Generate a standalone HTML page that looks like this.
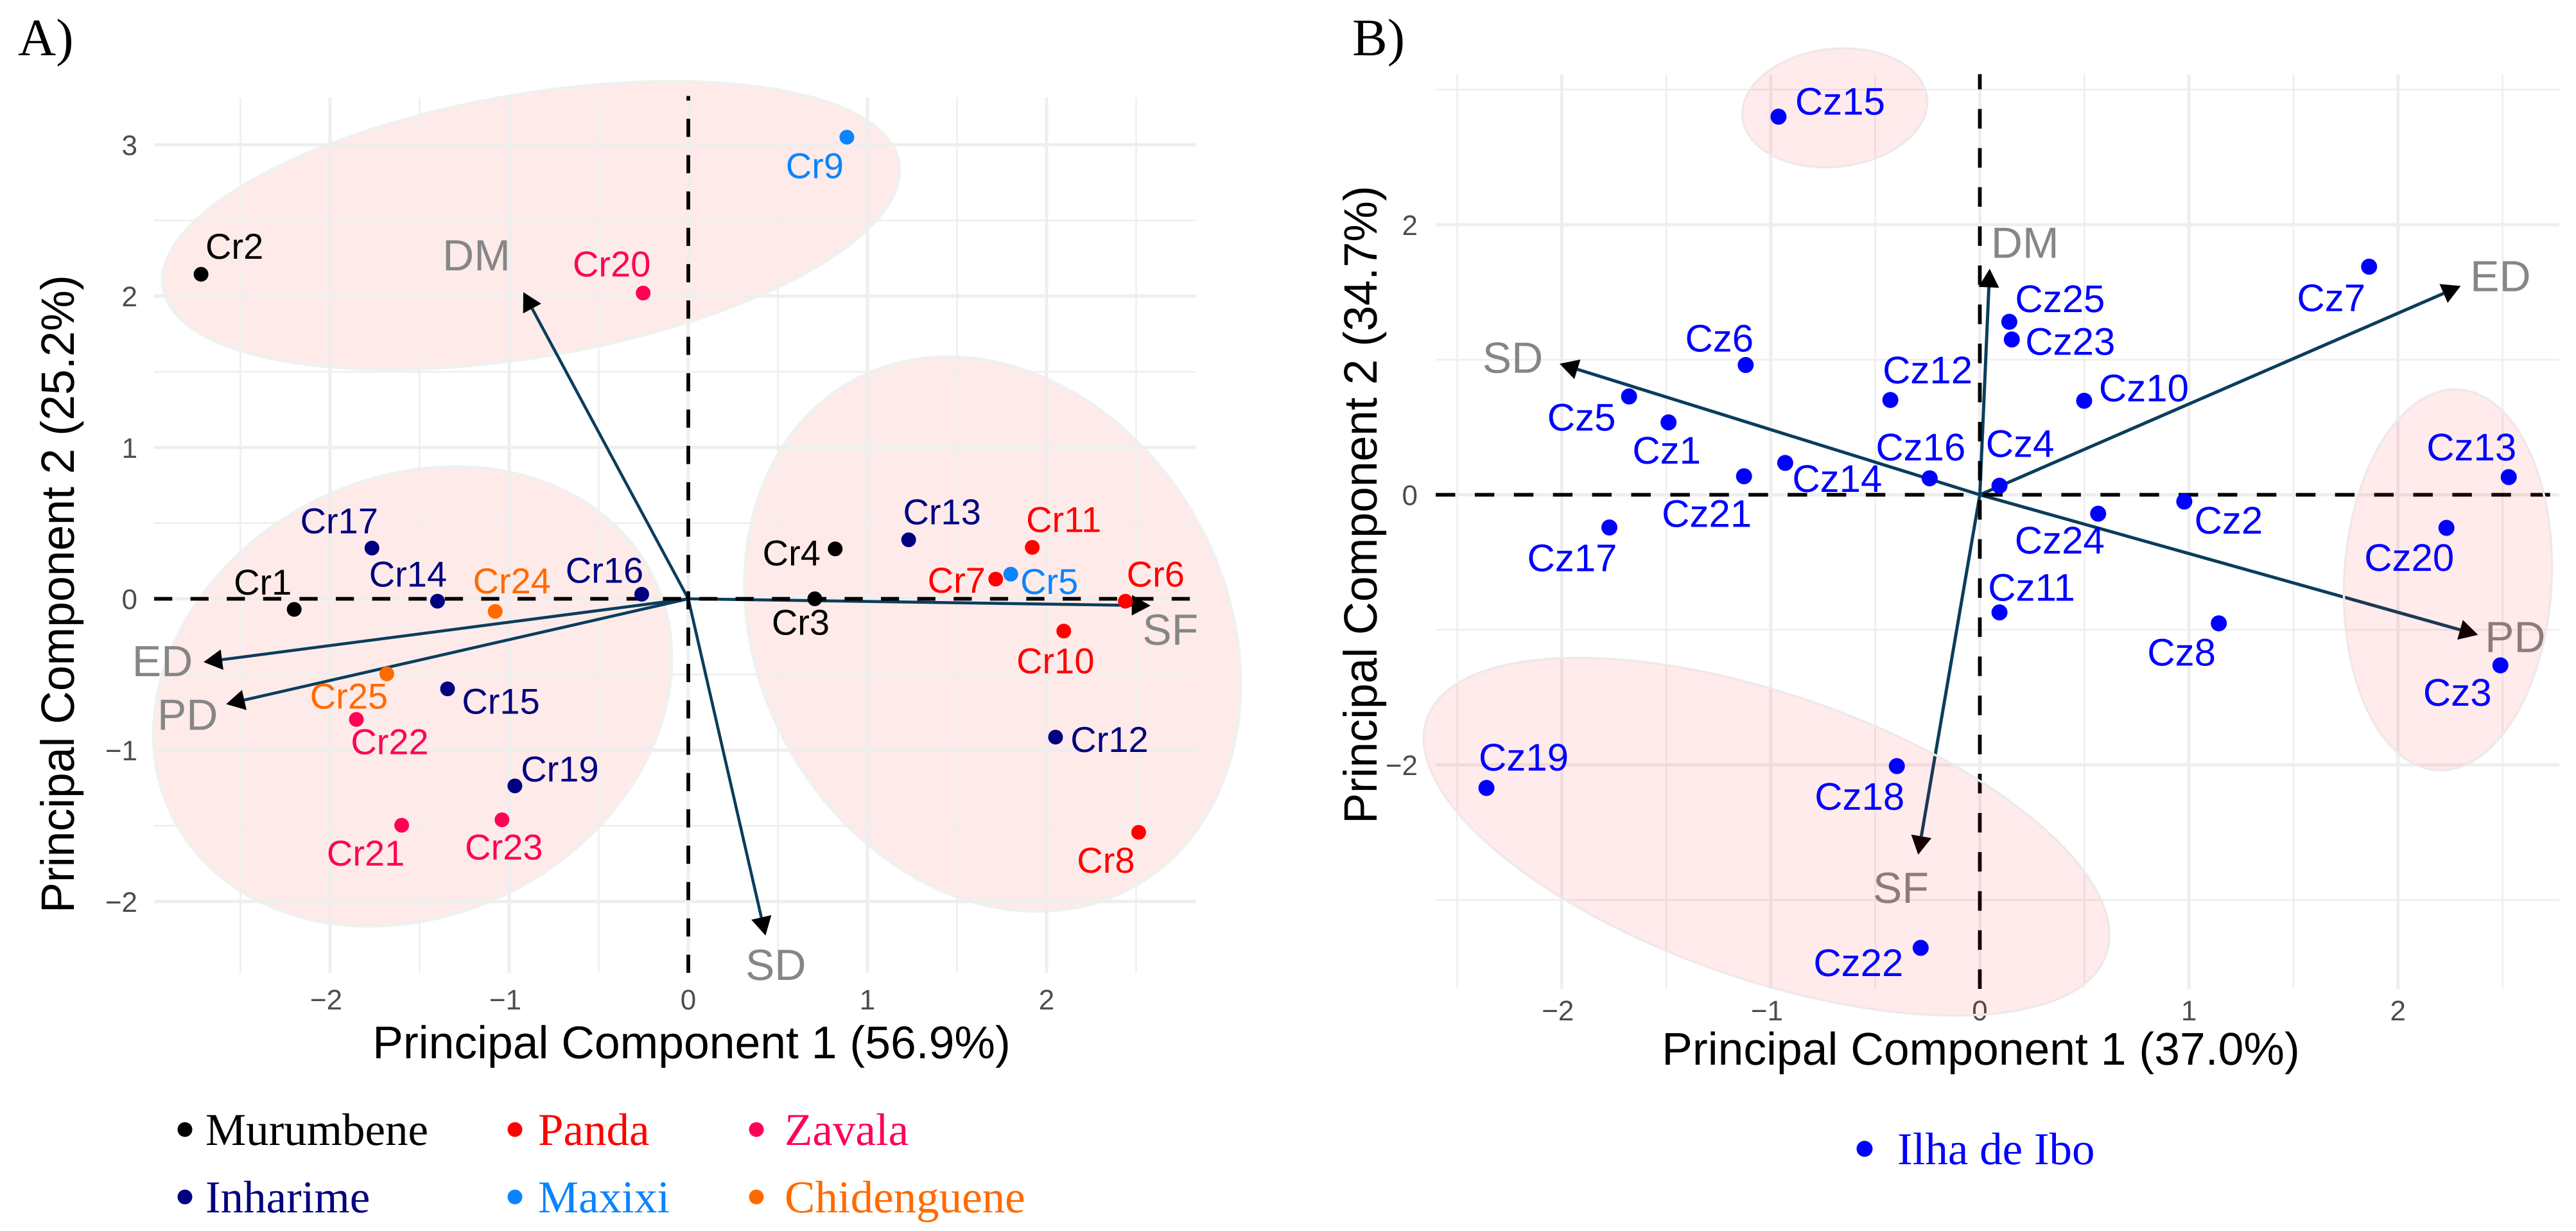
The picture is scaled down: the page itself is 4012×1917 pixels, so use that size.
<!DOCTYPE html>
<html lang="en">
<head>
<meta charset="utf-8">
<title>PCA biplots</title>
<style>
html,body{margin:0;padding:0;background:#fff;}
svg{display:block;}
text{font-family:"Liberation Sans",Arial,sans-serif;text-rendering:geometricPrecision;}
.serif{font-family:"Liberation Serif","Times New Roman",serif;}
</style>
</head>
<body>
<svg id="fig" xmlns="http://www.w3.org/2000/svg" width="4012" height="1917" viewBox="0 0 4012 1917">
<rect x="0" y="0" width="4012" height="1917" fill="#ffffff"/>
<text class="serif" x="28" y="86" font-size="82" fill="#000">A)</text>
<text class="serif" x="2106" y="86" font-size="82" fill="#000">B)</text>
<g id="panelA"></g>
<g id="panelB"></g>
<g id="legendA"></g>
<g id="legendB"></g>
</svg>
<script>
// ---------- Panel A data ----------
const crNames = ['Cr1','Cr2','Cr3','Cr4','Cr5','Cr6','Cr7','Cr8','Cr9','Cr10','Cr11','Cr12','Cr13','Cr14','Cr15','Cr16','Cr17','Cr19','Cr20','Cr21','Cr22','Cr23','Cr24','Cr25'];
const crPC1 = [-2.20,-2.72,0.706,0.82,1.80,2.44,1.716,2.514,0.885,2.096,1.92,2.05,1.23,-1.40,-1.344,-0.26,-1.766,-0.968,-0.252,-1.60,-1.853,-1.04,-1.078,-1.683];
const crPC2 = [-0.07,2.144,0,0.33,0.163,-0.016,0.13,-1.543,3.05,-0.213,0.34,-0.914,0.39,-0.016,-0.595,0.03,0.335,-1.236,2.02,-1.496,-0.797,-1.46,-0.083,-0.496];
const crSite = ['Murumbene','Murumbene','Murumbene','Murumbene','Maxixi','Panda','Panda','Panda','Maxixi','Panda','Panda','Inharime','Inharime','Inharime','Inharime','Inharime','Inharime','Inharime','Zavala','Zavala','Zavala','Zavala','Chidenguene','Chidenguene'];
const traitsA = ['DM','ED','PD','SF','SD'];
const loadAx = [-0.921,-2.706,-2.58,2.58,0.431];
const loadAy = [2.026,-0.418,-0.696,-0.045,-2.225];
const clusterAcx = [-0.878,-1.539,1.699];
const clusterAcy = [2.467,-0.645,-0.233];
const clusterAsx = [2.057,1.446,1.384];
const clusterAsy = [0.95,1.517,1.831];
const clusterAr = [0.383,0.165,-0.18];
const xTicksA = [-2,-1,0,1,2];
const yTicksA = [-2,-1,0,1,2,3];
const xMinorA = [-2.5,-1.5,-0.5,0.5,1.5,2.5];
const yMinorA = [-1.5,-0.5,0.5,1.5,2.5];
const legendSitesA = ['Murumbene','Inharime','Panda','Maxixi','Zavala','Chidenguene'];

// ---------- Panel B data ----------
const czNames = ['Cz1','Cz2','Cz3','Cz4','Cz5','Cz6','Cz7','Cz8','Cz10','Cz11','Cz12','Cz13','Cz14','Cz15','Cz16','Cz17','Cz18','Cz19','Cz20','Cz21','Cz22','Cz23','Cz24','Cz25'];
const czPC1 = [-1.489,0.978,2.49,0.094,-1.678,-1.12,1.862,1.143,0.499,0.094,-0.428,2.53,-0.931,-0.963,-0.24,-1.772,-0.397,-2.36,2.232,-1.128,-0.283,0.153,0.566,0.141];
const czPC2 = [0.536,-0.05,-1.263,0.067,0.728,0.961,1.689,-0.952,0.696,-0.871,0.702,0.131,0.236,2.80,0.122,-0.242,-2.009,-2.171,-0.245,0.137,-3.355,1.15,-0.14,1.281];
const traitsB = ['DM','ED','SD','PD','SF'];
const loadBx = [0.047,2.30,-2.01,2.383,-0.295];
const loadBy = [1.674,1.546,0.97,-1.037,-2.665];
const clusterBcx = [-0.694,2.239,-1.02];
const clusterBcy = [2.865,-0.63,-2.532];
const clusterBsx = [0.442,0.4975,1.64];
const clusterBsy = [0.44,1.41,1.324];
const clusterBr = [0.1,0.07,-0.55];
const xTicksB = [-2,-1,0,1,2];
const yTicksB = [-2,0,2];
const xMinorB = [-2.5,-1.5,-0.5,0.5,1.5,2.5];
const yMinorB = [-3,-1,1,3];

// ---------- Appearance (not data) ----------
const siteColor = {Murumbene:'#000000',Inharime:'#000080',Panda:'#ff0000',Maxixi:'#0a84ff',Zavala:'#ff0055',Chidenguene:'#ff6a00','Ilha de Ibo':'#0000ff'};
const labelNudgeA = {Cr1:[-49,-23],Cr2:[52,-24],Cr3:[-22,56],Cr4:[-68,26],Cr5:[60,31],Cr6:[47,-23],Cr7:[-61,21],Cr8:[-51,63],Cr9:[-50,64],Cr10:[-13,66],Cr11:[49,-24],Cr12:[84,23],Cr13:[52,-24],Cr14:[-46,-23],Cr15:[83,39],Cr16:[-58,-18],Cr17:[-51,-23],Cr19:[70,-7],Cr20:[-49,-26],Cr21:[-56,63],Cr22:[52,54],Cr23:[3,62],Cr24:[26,-28],Cr25:[-59,54]};
const labelNudgeB = {Cz1:[-3,64],Cz2:[69,50],Cz3:[-67,63],Cz4:[32,-45],Cz5:[-74,53],Cz6:[-41,-21],Cz7:[-59,69],Cz8:[-58,66],Cz10:[93,1],Cz11:[50,-18],Cz12:[58,-26],Cz13:[-58,-26],Cz14:[81,45],Cz15:[96,-3],Cz16:[-14,-28],Cz17:[-58,68],Cz18:[-58,68],Cz19:[58,-27],Cz20:[-58,67],Cz21:[-58,79],Cz22:[-97,44],Cz23:[91,24],Cz24:[-60,62],Cz25:[79,-15]};
const traitNudgeA = {DM:[-73,-34],ED:[-64,22],PD:[-60,40],SF:[31,61],SD:[16,69]};
const traitNudgeB = {DM:[55,-17],ED:[62,8],SD:[-73,14],PD:[58,27],SF:[-27,75]};

const NS = 'http://www.w3.org/2000/svg';
function mk(parent, tag, attrs, txt) {
  const el = document.createElementNS(NS, tag);
  for (const k in attrs) el.setAttribute(k, attrs[k]);
  if (txt !== undefined) el.textContent = txt;
  parent.appendChild(el);
  return el;
}
function tickText(v) { return v < 0 ? '\u2212' + Math.abs(v) : String(v); }

function drawGrid(g, p) {
  p.xMinor.forEach(function (v) {
    const el = mk(g, 'line', {x1:p.sx(v), x2:p.sx(v), y1:p.top, y2:p.bottom, stroke:'#eeeeee', 'stroke-width':2.6});
    
    
  });
  p.yMinor.forEach(function (v) {
    const el = mk(g, 'line', {x1:p.left, x2:p.right, y1:p.sy(v), y2:p.sy(v), stroke:'#eeeeee', 'stroke-width':2.6});
    
    
  });
  p.xTicks.forEach(function (v) {
    const el = mk(g, 'line', {x1:p.sx(v), x2:p.sx(v), y1:p.top, y2:p.bottom, stroke:'#eeeeee', 'stroke-width':5});
    
    
  });
  p.yTicks.forEach(function (v) {
    const el = mk(g, 'line', {x1:p.left, x2:p.right, y1:p.sy(v), y2:p.sy(v), stroke:'#eeeeee', 'stroke-width':5});
    
    
  });
}
function drawTicks(g, p) {
  p.xTicks.forEach(function (v) {
    const el = mk(g, 'text', {x:p.sx(v) - (v < 0 ? 6 : 0), y:p.xTickY, 'font-size':44, fill:'#4d4d4d', 'text-anchor':'middle'}, tickText(v));
    
    
  });
  p.yTicks.forEach(function (v) {
    const el = mk(g, 'text', {x:p.yTickX, y:p.sy(v) + 16, 'font-size':44, fill:'#4d4d4d', 'text-anchor':'end'}, tickText(v));
    
    
  });
}
function drawEllipses(g, p, style) {
  p.ecx.forEach(function (cx, i) {
    let d = '';
    for (let k = 0; k < 120; k++) {
      const t = k / 120 * 2 * Math.PI;
      const ex = cx + p.esx[i] * Math.cos(t);
      const ey = p.ecy[i] + p.esy[i] * (p.er[i] * Math.cos(t) + Math.sqrt(1 - p.er[i] * p.er[i]) * Math.sin(t));
      d += (k ? 'L' : 'M') + p.sx(ex).toFixed(1) + ' ' + p.sy(ey).toFixed(1);
    }
    const el = mk(g, 'path', Object.assign({d:d + 'Z'}, style));
    
    
  });
}
function drawArrows(g, p) {
  p.traits.forEach(function (name, i) {
    const x0 = p.sx(0), y0 = p.sy(0), x1 = p.sx(p.lx[i]), y1 = p.sy(p.ly[i]);
    const L = Math.hypot(x1 - x0, y1 - y0), ux = (x1 - x0) / L, uy = (y1 - y0) / L;
    const bx = x1 - ux * 29, by = y1 - uy * 29;
    const line = mk(g, 'line', {x1:x0, y1:y0, x2:bx, y2:by, stroke:'#0b3d5c', 'stroke-width':p.arrowWidth});
    
    
    const head = mk(g, 'polygon', {points:[x1, y1, bx - uy * 16, by + ux * 16, bx + uy * 16, by - ux * 16].join(' '), fill:'#000'});
    
    
    const n = p.traitNudge[name];
    const label = mk(g, 'text', {x:x1 + n[0], y:y1 + n[1], 'font-size':68, fill:'#868686', 'text-anchor':'middle'}, name);
    
    
  });
}
function drawZero(g, p) {
  const h = mk(g, 'line', {x1:p.left, x2:p.right, y1:p.sy(0), y2:p.sy(0), stroke:'#000', 'stroke-width':5.8, 'stroke-dasharray':p.dash + ' ' + p.dash});
  
  
  const v = mk(g, 'line', {x1:p.sx(0), x2:p.sx(0), y1:p.bottom, y2:p.zeroTop, stroke:'#000', 'stroke-width':5.8, 'stroke-dasharray':p.dash + ' ' + p.dash});
  
  
}
function drawPoints(g, p) {
  p.names.forEach(function (name, i) {
    const px = p.sx(p.px[i]), py = p.sy(p.py[i]), c = siteColor[p.site(i)];
    const pt = mk(g, 'circle', {cx:px, cy:py, r:p.r, fill:c});
    
    
    const n = p.nudge[name];
    const label = mk(g, 'text', {x:px + n[0], y:py + n[1], 'font-size':p.labelSize, fill:c, 'text-anchor':'middle'}, name);
    
    
  });
}

const panelA = {
  sx:function (v) { return 1072 + 279 * v; }, sy:function (v) { return 932.5 - 235.7 * v; },
  left:240, right:1863, top:152, bottom:1515, zeroTop:149.5, dash:28.3, arrowWidth:4.6,
  xTicks:xTicksA, yTicks:yTicksA, xMinor:xMinorA, yMinor:yMinorA,
  xTickY:1572, yTickX:214,
  ecx:clusterAcx, ecy:clusterAcy, esx:clusterAsx, esy:clusterAsy, er:clusterAr,
  traits:traitsA, lx:loadAx, ly:loadAy, traitNudge:traitNudgeA,
  names:crNames, px:crPC1, py:crPC2, site:function (i) { return crSite[i]; },
  nudge:labelNudgeA, r:11.5, labelSize:56
};
const panelB = {
  sx:function (v) { return 3083.5 + 325.6 * v; }, sy:function (v) { return 770.5 - 210.3 * v; },
  left:2236, right:3986, top:115.5, bottom:1540, zeroTop:115.5, dash:30.45, arrowWidth:5,
  xTicks:xTicksB, yTicks:yTicksB, xMinor:xMinorB, yMinor:yMinorB,
  xTickY:1589, yTickX:2208,
  ecx:clusterBcx, ecy:clusterBcy, esx:clusterBsx, esy:clusterBsy, er:clusterBr,
  traits:traitsB, lx:loadBx, ly:loadBy, traitNudge:traitNudgeB,
  names:czNames, px:czPC1, py:czPC2, site:function () { return 'Ilha de Ibo'; },
  nudge:labelNudgeB, r:12.5, labelSize:60
};

// Panel A: ellipses sit beneath the grid
const gA = document.getElementById('panelA');
drawEllipses(gA, panelA, {fill:'#feebe9', stroke:'#f0f0ee', 'stroke-width':5});
drawGrid(gA, panelA);
drawTicks(gA, panelA);
drawArrows(gA, panelA);
drawZero(gA, panelA);
drawPoints(gA, panelA);
const axA = mk(gA, 'text', {x:1077, y:1648, 'font-size':71.5, fill:'#000', 'text-anchor':'middle'}, 'Principal Component 1 (56.9%)');


const ayA = mk(gA, 'text', {transform:'translate(115,925) rotate(-90) scale(1,1.02)', 'font-size':71.5, fill:'#000', 'text-anchor':'middle'}, 'Principal Component 2 (25.2%)');



// Panel B: ellipses tint the arrows and trait labels beneath them
const gB = document.getElementById('panelB');
drawGrid(gB, panelB);
drawTicks(gB, panelB);
drawArrows(gB, panelB);
drawZero(gB, panelB);
drawEllipses(gB, panelB, {fill:'rgba(255,0,0,0.08)', stroke:'#f0e8e8', 'stroke-width':3.5});
drawPoints(gB, panelB);
const axB = mk(gB, 'text', {x:3085, y:1658, 'font-size':71.5, fill:'#000', 'text-anchor':'middle'}, 'Principal Component 1 (37.0%)');


const ayB = mk(gB, 'text', {transform:'translate(2144,786) rotate(-90) scale(1,1.02)', 'font-size':71.5, fill:'#000', 'text-anchor':'middle'}, 'Principal Component 2 (34.7%)');



// Legends
const legendA = document.getElementById('legendA');
legendSitesA.forEach(function (site, i) {
  const col = Math.floor(i / 2), row = i % 2;
  const dotX = [288, 802, 1178][col], textX = [320, 838, 1222][col];
  const dy = 1759 + row * 105, by = 1783 + row * 105;
  const dot = mk(legendA, 'circle', {cx:dotX, cy:dy, r:11.5, fill:siteColor[site]});
  
  
  const t = mk(legendA, 'text', {'class':'serif', x:textX, y:by, 'font-size':71, fill:siteColor[site]}, site);
  
  
});
const legendB = document.getElementById('legendB');
const dotB = mk(legendB, 'circle', {cx:2904, cy:1789, r:12.5, fill:siteColor['Ilha de Ibo']});


const txtB = mk(legendB, 'text', {'class':'serif', x:2955, y:1813, 'font-size':71, fill:siteColor['Ilha de Ibo']}, 'Ilha de Ibo');


</script>
</body>
</html>
